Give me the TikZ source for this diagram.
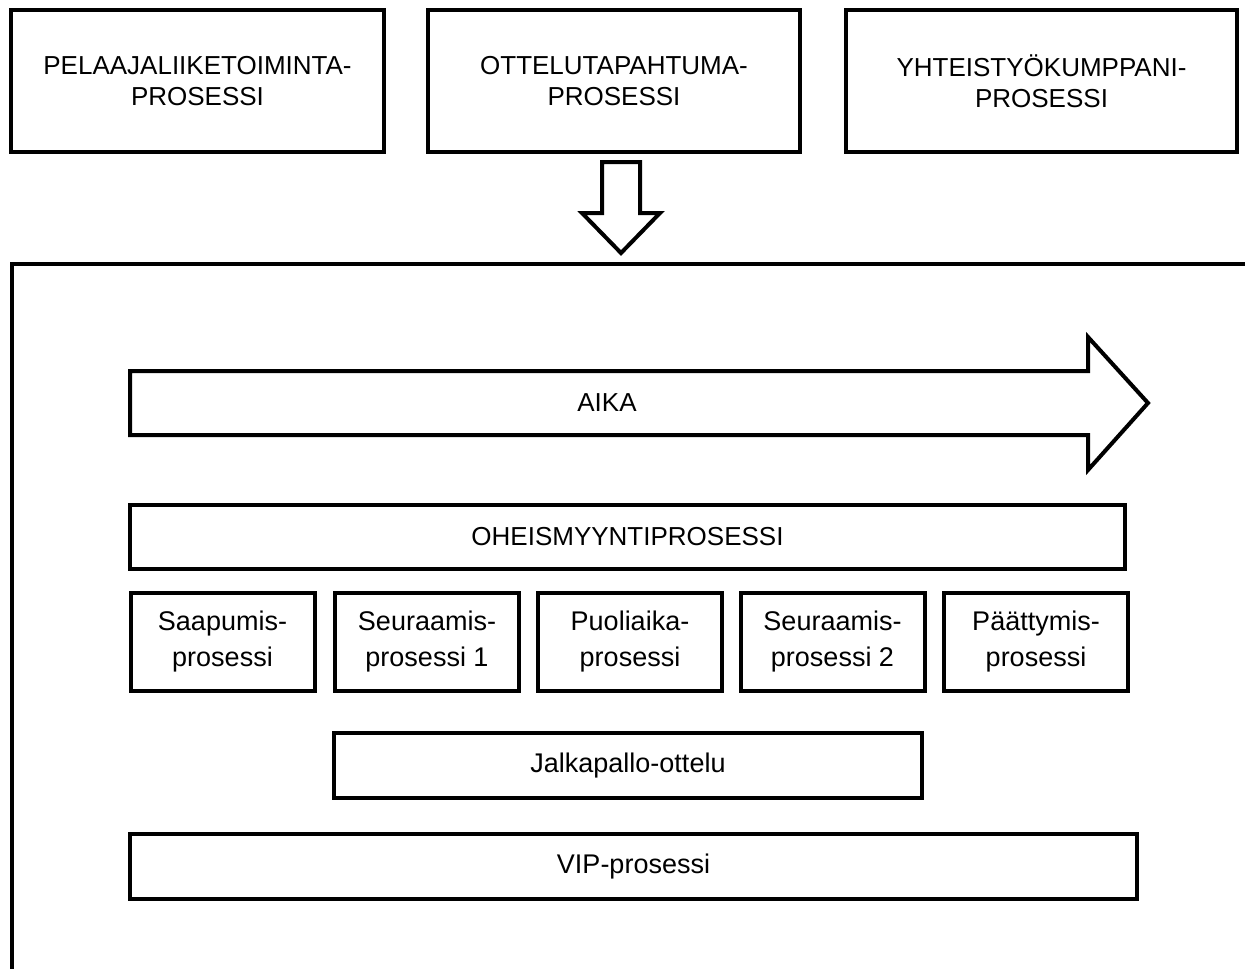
\documentclass[tikz,border=0pt]{standalone}
\usepackage{fontspec}
\setmainfont{Liberation Sans}
\begin{document}
\begin{tikzpicture}[x=1pt,y=-1pt,
  box/.style={draw, line width=4pt, inner sep=0pt, align=center,
    font=\fontsize{26}{31}\selectfont},
  topbox/.style={box, minimum height=142pt},
  phasebox/.style={box, minimum width=184pt, minimum height=98pt,
    font=\fontsize{27}{36}\selectfont},
  band/.style={box, minimum height=64pt},
  lowband/.style={band, minimum height=65pt, font=\fontsize{27}{31}\selectfont},
  blockarrow/.style={draw, line width=4pt, line join=miter, fill=white},
]
\useasboundingbox (0,0) rectangle (1245,969);

% business processes on top
\node[topbox, minimum width=373pt] (pel) at (197.5,81) {PELAAJALIIKETOIMINTA-\\PROSESSI};
\node[topbox, minimum width=372pt] (ott) at (614,81) {OTTELUTAPAHTUMA-\\PROSESSI};
\node[topbox, minimum width=391pt] (yht) at (1041.5,81) {YHTEISTYÖKUMPPANI-\\PROSESSI};

% hollow arrow pointing into the match-event frame
\draw[blockarrow] (602,162) -- (640,162) -- (640,213) -- (660,213) -- (621,253)
  -- (582,213) -- (602,213) -- cycle;

% frame of the match event
\draw[line width=4pt, line join=miter] (12,969) -- (12,264) -- (1245,264);

% time axis
\draw[blockarrow] (130,371) -- (1088,371) -- (1088,337) -- (1148,403)
  -- (1088,470) -- (1088,435) -- (130,435) -- cycle;
\node[font=\fontsize{26}{31}\selectfont] (aika) at (607,403) {AIKA};

% sub-processes
\node[band, minimum width=995pt] (ohe) at (627.5,537) {OHEISMYYNTIPROSESSI};
\node[phasebox] (saa) at (222.5,642) {Saapumis-\\prosessi};
\node[phasebox] (se1) at (427,642) {Seuraamis-\\prosessi 1};
\node[phasebox] (puo) at (630,642) {Puoliaika-\\prosessi};
\node[phasebox] (se2) at (832.5,642) {Seuraamis-\\prosessi 2};
\node[phasebox] (paa) at (1036,642) {Päättymis-\\prosessi};
\node[lowband, minimum width=588pt] (jal) at (628,765.5) {Jalkapallo-ottelu};
\node[lowband, minimum width=1007pt] (vip) at (633.5,866.5) {VIP-prosessi};
\end{tikzpicture}
\end{document}
